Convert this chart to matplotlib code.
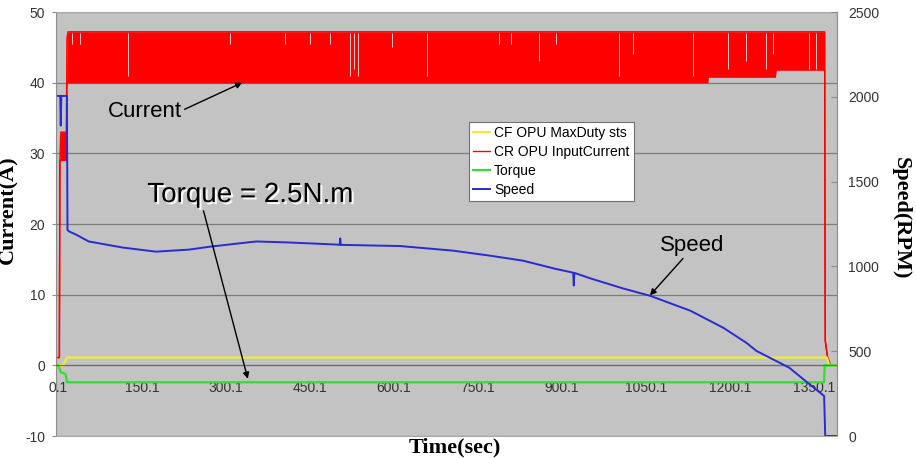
import matplotlib
matplotlib.use("Agg")
import matplotlib.pyplot as plt
import matplotlib.patheffects as pe

# time axis (sec)
xtick_vals = [0.1, 150.1, 300.1, 450.1, 600.1, 750.1, 900.1, 1050.1, 1200.1, 1350.1]

# CR OPU InputCurrent (A): the signal chatters between a low and high envelope
cur_t = [0.1, 2.5, 3.5, 5, 15, 16, 18, 1160, 1161, 1281, 1282, 1369, 1370, 1374, 1378]
cur_hi = [1.1, 1.1, 29, 33, 33, 46.3, 47.2, 47.2, 47.2, 47.2, 47.2, 47.2, 3.5, 1.2, 0.3]
cur_lo = [1.1, 1.1, 29, 29, 29, 40, 40, 40, 40.8, 40.8, 41.8, 41.8, 3.5, 1.2, 0.3]
# short dips in the current band (time, lowest value reached from the top)
gap_t = [25, 39, 125, 307, 405, 450, 486, 521, 529, 536, 597, 659, 788, 809, 859,
         889, 1002, 1027, 1134, 1197, 1229, 1264, 1277, 1341, 1354]
gap_lo = [45.5, 45.5, 41, 45.5, 45.5, 45.5, 45.5, 41, 42, 41, 45, 41, 45.5, 45.5, 43,
          45.5, 41, 44, 41, 42, 43, 42, 44, 42, 42]

# CF OPU MaxDuty sts
duty_t = [0.1, 9, 16, 1373, 1377, 1391]
duty_v = [0, 0, 1.1, 1.1, 0, 0]

# Torque
torq_t = [0.1, 3, 5, 10, 14, 16, 1368, 1369, 1391]
torq_v = [0, -0.5, -1.0, -1.1, -1.3, -2.4, -2.4, 0, 0]

# Speed (RPM), right axis
speed_t = [0.1, 4, 5, 6, 16, 17, 20, 32, 55, 116, 175, 234, 273, 354, 413, 496, 503, 504, 505,
           611, 705, 770, 830, 889, 920, 921, 922, 950, 1009, 1057, 1129, 1188, 1229, 1247,
           1282, 1306, 1339, 1368, 1370, 1391]
speed_v = [2005, 2005, 1830, 2005, 2005, 1215, 1206, 1188, 1147, 1111, 1087, 1099, 1117, 1147, 1141, 1129, 1127, 1165, 1127,
           1120, 1093, 1064, 1034, 985, 963, 887, 962, 930, 870, 827, 739, 638, 550, 502,
           443, 402, 313, 236, 0, 0]

plt.rcParams['font.family'] = ['Liberation Sans', 'DejaVu Sans']
plt.rcParams['axes.unicode_minus'] = False

fig = plt.figure(figsize=(9.16, 4.58), dpi=100)
ax = fig.add_axes([56 / 916, 22 / 458, 781 / 916, 424 / 458])
ax2 = ax.twinx()

ax.set_facecolor('#c3c3c3')
ax.set_xlim(-3.5, 1391)
ax.set_ylim(-10, 50)
ax2.set_ylim(0, 2500)

ax.set_yticks(range(-10, 51, 10))
ax.grid(axis='y', color='#7c7c7c', lw=0.9)
ax.grid(axis='x', visible=False)
ax.set_axisbelow(True)

c_yel = '#eeee3a'
c_red = '#ff0000'
c_grn = '#33dd33'
c_blu = '#2a2ad0'

ax.fill_between(cur_t, cur_lo, cur_hi, color=c_red, lw=0)
ln_cur, = ax.plot(cur_t, cur_hi, color=c_red, lw=1.0)
ax.plot(cur_t, cur_lo, color=c_red, lw=1.0)
ax.vlines(gap_t, gap_lo, 47.0, color='#eccaca', lw=0.7)
ln_duty, = ax.plot(duty_t, duty_v, color=c_yel, lw=1.6)
ln_torq, = ax.plot(torq_t, torq_v, color=c_grn, lw=1.6)
ln_spd, = ax2.plot(speed_t, speed_v, color=c_blu, lw=1.4)

# Excel-style: category axis crosses at 0
ax.spines['bottom'].set_position(('data', 0))
ax.spines['bottom'].set_color('#6a6a6a')
ax.spines['right'].set_visible(False)
ax.spines['left'].set_color('#8c8c8c')
ax.spines['top'].set_color('#a8a8a8')
ax2.spines['top'].set_visible(False)
ax2.spines['left'].set_visible(False)
ax2.spines['right'].set_color('#8c8c8c')
ax2.spines['bottom'].set_color('#a8a8a8')

ax.set_xticks(xtick_vals)
ax.set_xticklabels([f'{v:.1f}' for v in xtick_vals])
ax.tick_params(axis='x', length=0, pad=11, labelsize=10, labelcolor='#333333')
ax.tick_params(axis='y', length=3, direction='out', color='#8c8c8c', pad=5,
               labelsize=10, labelcolor='#333333')
ax2.set_yticks(range(0, 2501, 500))
ax2.tick_params(axis='y', length=4, direction='in', color='#8c8c8c', pad=8,
                labelsize=10, labelcolor='#333333')

serif = dict(family='Liberation Serif', fontweight='bold', fontsize=16)
ax.set_ylabel('Current(A)', **serif)
ax.yaxis.set_label_coords(-0.048, 0.533)
ax2.set_ylabel('Speed(RPM)', rotation=270, va='center', **serif)
ax2.yaxis.set_label_coords(1.082, 0.514)
ax.set_xlabel('Time(sec)', va='top', **serif)
ax.xaxis.set_label_coords(0.511, -0.003)

arrow = dict(arrowstyle='-|>', color='black', lw=1.0, mutation_scale=9, shrinkA=0, shrinkB=0)
ax2.annotate('Current', xy=(329, 40), xycoords=ax.transData,
             xytext=(155, 35.9), textcoords=ax.transData,
             ha='center', va='center', fontsize=16,
             arrowprops=dict(arrow, relpos=(1.0, 0.55)))
ax2.annotate('Torque = 2.5N.m', xy=(339, -1.9), xycoords=ax.transData,
             xytext=(343, 24.1), textcoords=ax.transData,
             ha='center', va='center', fontsize=20,
             path_effects=[pe.withSimplePatchShadow(offset=(1.5, -1.5), shadow_rgbFace='white', alpha=0.9)],
             arrowprops=dict(arrow, relpos=(0.27, 0.0)))
ax2.annotate('Speed', xy=(1057, 9.9), xycoords=ax.transData,
             xytext=(1132, 17.0), textcoords=ax.transData,
             ha='center', va='center', fontsize=16,
             arrowprops=dict(arrow, relpos=(0.4, 0.0)))

leg = ax2.legend([ln_duty, ln_cur, ln_torq, ln_spd],
                 ['CF OPU MaxDuty sts', 'CR OPU InputCurrent', 'Torque', 'Speed'],
                 loc='upper left', bbox_to_anchor=(0.529, 0.741), fontsize=10,
                 frameon=True, fancybox=False, framealpha=1, edgecolor='#707070',
                 handlelength=1.2, handletextpad=0.3, labelspacing=0.35, borderpad=0.3,
                 borderaxespad=0)
leg.get_frame().set_linewidth(0.8)

fig.savefig('out.png', dpi=100)
